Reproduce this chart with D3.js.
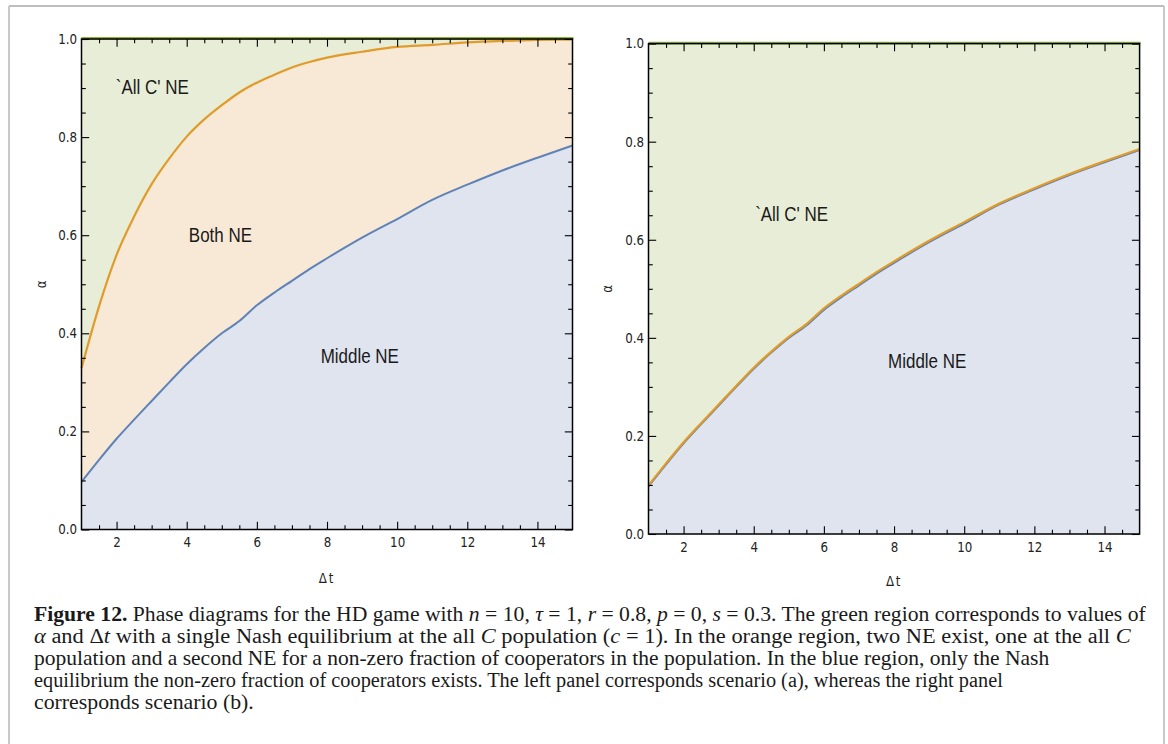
<!DOCTYPE html>
<html><head><meta charset="utf-8">
<script src="https://cdn.jsdelivr.net/npm/d3@7"></script>
<style>
html,body{margin:0;padding:0;background:#fff;}
svg{display:block;}
</style></head>
<body>
<svg id="chart" width="1168" height="744"></svg>
<script>
// ---------- data ----------
const dtGrid = [1,1.5,2,2.5,3,3.5,4,4.5,5,5.5,6,6.5,7,7.5,8,9,10,11,12,13,14,15];
// left panel, scenario (a)
const upperA = [0.329,0.455,0.560,0.638,0.704,0.756,0.801,0.836,0.865,0.891,0.911,0.927,0.942,0.953,0.962,0.974,0.984,0.988,0.993,0.996,0.998,0.999];
const lowerA = [0.097,0.142,0.185,0.224,0.262,0.300,0.337,0.370,0.400,0.425,0.457,0.483,0.507,0.531,0.553,0.595,0.633,0.672,0.703,0.732,0.758,0.783];
// right panel, scenario (b)
const upperB = [0.099,0.144,0.187,0.226,0.264,0.302,0.339,0.372,0.402,0.428,0.460,0.486,0.510,0.534,0.556,0.598,0.636,0.674,0.705,0.734,0.760,0.785];
const lowerB = [0.097,0.142,0.185,0.224,0.262,0.300,0.337,0.370,0.400,0.425,0.457,0.483,0.507,0.531,0.553,0.595,0.633,0.672,0.703,0.732,0.758,0.783];
const xMajorTicks = [2,4,6,8,10,12,14];
const yMajorTicks = [0,0.2,0.4,0.6,0.8,1.0];
const labelsA = [["`All C' NE",1.98,0.888],["Both NE",4.06,0.586],["Middle NE",7.82,0.339]];
const labelsB = [["`All C' NE",4.04,0.638],["Middle NE",7.83,0.338]];
const captionLines = [
  [["b","Figure 12."],["r"," Phase diagrams for the HD game with "],["i","n"],["r"," = 10, "],["i","τ"],["r"," = 1, "],["i","r"],["r"," = 0.8, "],["i","p"],["r"," = 0, "],["i","s"],["r"," = 0.3. The green region corresponds to values of"]],
  [["i","α"],["r"," and Δ"],["i","t"],["r"," with a single Nash equilibrium at the all "],["i","C"],["r"," population ("],["i","c"],["r"," = 1). In the orange region, two NE exist, one at the all "],["i","C"]],
  [["r","population and a second NE for a non-zero fraction of cooperators in the population. In the blue region, only the Nash"]],
  [["r","equilibrium the non-zero fraction of cooperators exists. The left panel corresponds scenario (a), whereas the right panel"]],
  [["r","corresponds scenario (b)."]]
];
const captionWidths = [1112,1097,1016,969,220];

// ---------- styles ----------
const C = {green:"#e7edd6", orange:"#f8e9d6", blue:"#dfe4ef",
           oLine:"#e19b2b", bLine:"#5f82b7", gLine:"#8db23c"};
const SQ = 0.88; // horizontal squeeze of sans text

const svg = d3.select("#chart");

// figure frame
svg.append("line").attr("x1",9).attr("x2",1164).attr("y1",6).attr("y2",6).attr("stroke","#a8a8a8").attr("stroke-width",1.5);
svg.append("line").attr("x1",9).attr("x2",9).attr("y1",6).attr("y2",744).attr("stroke","#c8c8c8").attr("stroke-width",2);
svg.append("line").attr("x1",1164).attr("x2",1164).attr("y1",6).attr("y2",744).attr("stroke","#c8c8c8").attr("stroke-width",2);

function panel(opt){
  const x = d3.scaleLinear().domain([1,15]).range(opt.xr);
  const y = d3.scaleLinear().domain([0,1]).range(opt.yr);
  const g = svg.append("g");
  const pts = (arr)=>dtGrid.map((d,i)=>[d,arr[i]]);
  const areaAbove = d3.area().x(d=>x(d[0])).y0(y(1)).y1(d=>y(d[1])).curve(d3.curveMonotoneX);
  const areaBetween = d3.area().x(d=>x(d[0])).y0(d=>y(d[2])).y1(d=>y(d[1])).curve(d3.curveMonotoneX);
  const areaBelow = d3.area().x(d=>x(d[0])).y0(y(0)).y1(d=>y(d[1])).curve(d3.curveMonotoneX);
  const line = d3.line().x(d=>x(d[0])).y(d=>y(d[1])).curve(d3.curveMonotoneX);

  g.append("path").datum(pts(opt.upper)).attr("d",areaAbove).attr("fill",C.green);
  g.append("path").datum(dtGrid.map((d,i)=>[d,opt.upper[i],opt.lower[i]])).attr("d",areaBetween).attr("fill",C.orange);
  g.append("path").datum(pts(opt.lower)).attr("d",areaBelow).attr("fill",C.blue);
  g.append("path").datum(pts(opt.lower)).attr("d",line).attr("fill","none").attr("stroke",C.bLine).attr("stroke-width",2);
  g.append("path").datum(pts(opt.upper)).attr("d",line).attr("fill","none").attr("stroke",C.oLine).attr("stroke-width",2.2);

  // green edge at alpha = 1
  g.append("line").attr("x1",x(1)).attr("x2",x(15)+1).attr("y1",y(1)-0.7).attr("y2",y(1)-0.7).attr("stroke",C.gLine).attr("stroke-width",2.5);

  // region labels
  opt.labels.forEach(l=>{
    g.append("text").attr("transform",`translate(${x(l[1])},${y(l[2])}) scale(${SQ},1)`).text(l[0])
     .attr("font-family","'Liberation Sans', Arial, sans-serif").attr("font-size",19.3).attr("fill","#1a1a1a");
  });

  const xMinor = d3.range(1,15.01,0.5).filter(v=>!xMajorTicks.includes(v) && v>1 && v<15);
  const yMinor = d3.range(0,1.001,0.05).map(v=>+v.toFixed(2)).filter(v=>!yMajorTicks.some(t=>Math.abs(t-v)<1e-6));
  const [X0,X1] = opt.xr, [Y0,Y1] = opt.yr;

  function addAxis(gen, tr, labels){
    const a = g.append("g").attr("transform",tr).call(gen);
    a.select(".domain").remove();
    a.selectAll(".tick line").attr("stroke","#000").attr("stroke-width",1.1);
    a.selectAll(".tick text").attr("font-family","'DejaVu Sans', Verdana, sans-serif").attr("font-size",13.5).attr("fill","#222")
      .attr("transform",`scale(${SQ},1)`);
    if(!labels) a.selectAll(".tick text").remove();
    return a;
  }
  // bottom
  addAxis(d3.axisBottom(x).tickValues(xMajorTicks).tickSizeInner(-7.7).tickSizeOuter(0).tickPadding(8).tickFormat(d3.format("d")), `translate(0,${Y0})`, true);
  addAxis(d3.axisBottom(x).tickValues(xMinor).tickSizeInner(-4.3).tickSizeOuter(0).tickFormat(""), `translate(0,${Y0})`, false);
  // top
  addAxis(d3.axisTop(x).tickValues(xMajorTicks).tickSizeInner(-7.7).tickSizeOuter(0), `translate(0,${Y1})`, false);
  addAxis(d3.axisTop(x).tickValues(xMinor).tickSizeInner(-4.3).tickSizeOuter(0), `translate(0,${Y1})`, false);
  // left
  addAxis(d3.axisLeft(y).tickValues(yMajorTicks).tickSizeInner(-7.7).tickSizeOuter(0).tickPadding(5).tickFormat(d3.format(".1f")), `translate(${X0},0)`, true);
  addAxis(d3.axisLeft(y).tickValues(yMinor).tickSizeInner(-4.3).tickSizeOuter(0).tickFormat(""), `translate(${X0},0)`, false);
  // right
  addAxis(d3.axisRight(y).tickValues(yMajorTicks).tickSizeInner(-7.7).tickSizeOuter(0), `translate(${X1},0)`, false);
  addAxis(d3.axisRight(y).tickValues(yMinor).tickSizeInner(-4.3).tickSizeOuter(0), `translate(${X1},0)`, false);

  // frame
  g.append("rect").attr("x",X0).attr("y",Y1).attr("width",X1-X0).attr("height",Y0-Y1)
   .attr("fill","none").attr("stroke","#000").attr("stroke-width",1.5);

  // axis titles
  g.append("text").attr("transform",`translate(${(X0+X1)/2},${opt.xTitleY}) scale(${SQ},1)`).attr("text-anchor","middle")
   .attr("font-family","'DejaVu Sans', Verdana, sans-serif").attr("font-size",13.5).attr("letter-spacing",2).attr("fill","#222").text("Δt");
  g.append("text").attr("transform",`translate(${opt.yTitleX},${(Y0+Y1)/2}) rotate(-90) scale(${SQ},1)`).attr("text-anchor","middle")
   .attr("dy","0.35em").attr("font-family","'DejaVu Sans', Verdana, sans-serif").attr("font-size",13.5).attr("fill","#222").text("α");
}

panel({xr:[81.5,572.5], yr:[529.5,39], upper:upperA, lower:lowerA, labels:labelsA, xTitleY:582.5, yTitleX:41});
panel({xr:[648.5,1139.6], yr:[534,43.6], upper:upperB, lower:lowerB, labels:labelsB, xTitleY:586, yTitleX:607});

// caption
const cap = svg.append("g");
captionLines.forEach((line,i)=>{
  const t = cap.append("text").attr("x",0).attr("y",0)
    .attr("font-family","'Liberation Serif','Times New Roman',serif").attr("font-size",20.5).attr("fill","#1a1a1a");
  line.forEach(seg=>{
    const s = t.append("tspan").text(seg[1]);
    if(seg[0]==="b") s.attr("font-weight","bold");
    if(seg[0]==="i") s.attr("font-style","italic");
  });
  const w = t.node().getComputedTextLength();
  const sx = captionWidths[i]/w;
  t.attr("transform",`translate(34,${621+i*22}) scale(${sx},1)`);
});
</script>
</body></html>
